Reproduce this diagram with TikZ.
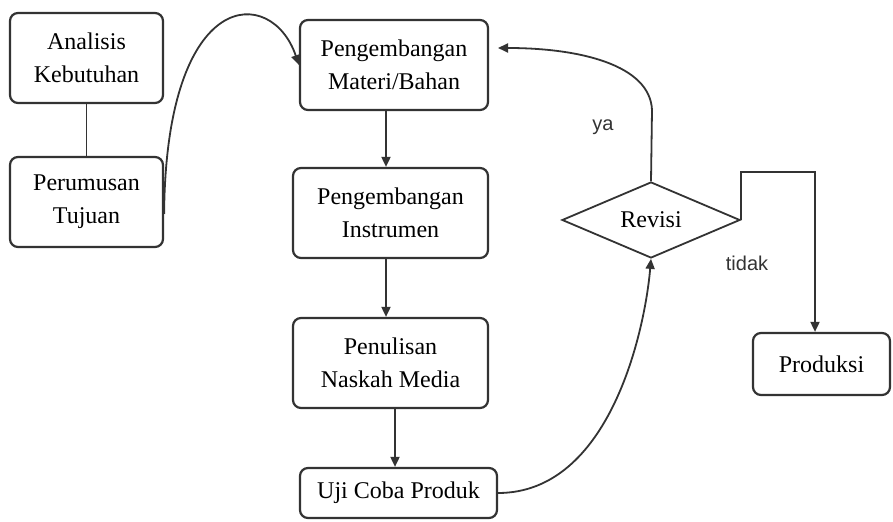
\documentclass[tikz,border=0pt]{standalone}
\usepackage{fontspec}
\setmainfont{Liberation Serif}
\newfontfamily\labelfont{Liberation Sans}
\usetikzlibrary{arrows.meta,shapes.geometric,calc}
\definecolor{ln}{gray}{0.2}
\begin{document}
\begin{tikzpicture}[x=0.5pt,y=-0.5pt,
  box/.style={draw=ln,line width=1.1pt,rounded corners=4pt,align=center,inner sep=0pt,
    font=\fontsize{12pt}{16.5pt}\selectfont},
  arr/.style={draw=ln,line width=0.9pt,-{Triangle[length=5pt,width=4.5pt]}},
  ln/.style={draw=ln,line width=0.9pt},
  lbl/.style={font=\labelfont\fontsize{10pt}{12pt}\selectfont,text=black!80}]
\useasboundingbox (0,0) rectangle (893,522);
\node[box,minimum width=76.5pt,minimum height=45pt] (ak) at (86.5,58) {Analisis\\Kebutuhan};
\node[box,minimum width=76.5pt,minimum height=45pt] (pt) at (86.5,202) {Perumusan\\Tujuan};
\node[box,minimum width=94pt,minimum height=45pt] (pm) at (394,65) {Pengembangan\\Materi/Bahan};
\node[box,minimum width=97.5pt,minimum height=45pt] (pi) at (390.5,213) {Pengembangan\\Instrumen};
\node[box,minimum width=97.5pt,minimum height=45pt] (pn) at (390.5,363) {Penulisan\\Naskah Media};
\node[box,minimum width=98.5pt,minimum height=25pt] (uc) at (398.5,493) {Uji Coba Produk};
\node[draw=ln,line width=0.9pt,diamond,aspect=2.34,inner sep=0pt,minimum width=89pt,minimum height=38pt,
  font=\fontsize{12pt}{14pt}\selectfont] (rev) at (651,220) {Revisi};
\node[box,minimum width=68.5pt,minimum height=31pt] (prod) at (821.5,364) {Produksi};
\node[lbl] (ya) at (603,127) {ya};
\node[lbl] (tidak) at (747,263) {tidak};
\coordinate (c1) at (386,0);
\coordinate (c2) at (395,0);
\coordinate (top) at (652,110);
\coordinate (tip) at (498,48);
\coordinate (corner) at (815,172);
\draw[ln] (ak) -- (pt);
\draw[arr] ([yshift=-6pt]pt.east) .. controls (166,-15) and (272,-15) .. (pm.west);
\draw[arr] (pm.south -| c1) -- (pi.north -| c1);
\draw[arr] (pi.south -| c1) -- (pn.north -| c1);
\draw[arr] (pn.south -| c2) -- (uc.north -| c2);
\draw[arr] (uc.east) .. controls (610,493) and (645,330) .. (rev.south);
\draw[arr] (rev.north) -- (top) .. controls (650,65) and (580,48) .. (tip);
\draw[arr] (rev.east) |- (corner) -- (prod.north -| corner);
\end{tikzpicture}
\end{document}
